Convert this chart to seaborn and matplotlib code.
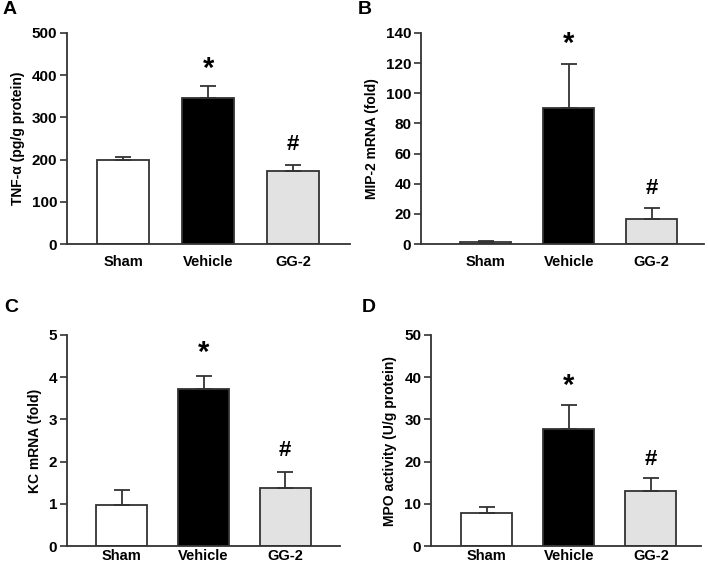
import numpy as np
import matplotlib
matplotlib.use("Agg")
import matplotlib.pyplot as plt
import seaborn as sns

## data
groups = ["Sham", "Vehicle", "GG-2"]
colors = ["#ffffff", "#000000", "#e2e2e2"]

tnf_mean = [198, 345, 173]
tnf_err = [9, 30, 14]
mip2_mean = [1.5, 90, 16.5]
mip2_err = [0.5, 29.5, 7.5]
kc_mean = [0.97, 3.73, 1.37]
kc_err = [0.36, 0.29, 0.38]
mpo_mean = [7.8, 27.7, 13.0]
mpo_err = [1.5, 5.6, 3.0]

sns.set_style("ticks")
plt.rcParams["font.family"] = ["Liberation Sans", "DejaVu Sans"]
plt.rcParams["font.weight"] = "bold"
plt.rcParams["text.color"] = "black"
plt.rcParams["axes.labelcolor"] = "black"
plt.rcParams["xtick.labelcolor"] = "black"
plt.rcParams["ytick.labelcolor"] = "black"

fig = plt.figure(figsize=(7.08, 5.64), dpi=100)

W, H = 708.0, 564.0

def px_axes(left, right, top, bottom):
    return fig.add_axes([left / W, 1 - bottom / H, (right - left) / W, (bottom - top) / H])

panels = [
    # letter, mean, err, ylabel, ymax, step, box, xlim, star_y, hash_y, letter_pos, xpad
    ("A", tnf_mean, tnf_err, "TNF-α (pg/g protein)", 500, 100, (67, 350, 33, 244), (-0.66, 2.67), 415, 235, (3, 10), 8),
    ("B", mip2_mean, mip2_err, "MIP-2 mRNA (fold)", 140, 20, (421, 704, 33, 244), (-0.78, 2.63), 133, 37, (358, 10), 8),
    ("C", kc_mean, kc_err, "KC mRNA (fold)", 5, 1, (67, 340, 335, 546), (-0.67, 2.67), 4.58, 2.27, (4, 307), 2),
    ("D", mpo_mean, mpo_err, "MPO activity (U/g protein)", 50, 10, (431, 701, 335, 546), (-0.68, 2.61), 38.0, 20.6, (362, 307), 2),
]

for letter, mean, err, ylab, ymax, step, box, xlim, star_y, hash_y, lpos, xpad in panels:
    ax = px_axes(*box)
    sns.barplot(x=groups, y=mean, hue=groups, palette=colors, ax=ax, width=0.62,
                edgecolor="#333333", linewidth=1.3, legend=False, errorbar=None)
    ax.errorbar(range(3), mean, yerr=[np.zeros(3), err], fmt="none", ecolor="#333333",
                elinewidth=1.3, capsize=6, capthick=1.3, zorder=1)
    ax.set_ylim(0, ymax)
    ax.set_xlim(*xlim)
    ax.set_yticks(np.arange(0, ymax + step / 2, step))
    ax.set_ylabel(ylab, fontsize=10, fontweight="bold", labelpad=5)
    ax.tick_params(axis="y", length=5, width=1.2, color="#333333", labelsize=11, pad=2)
    ax.tick_params(axis="x", length=0, labelsize=10.5, pad=xpad)
    for lab in ax.get_xticklabels() + ax.get_yticklabels():
        lab.set_fontweight("bold")
    sns.despine(ax=ax)
    for s in ["left", "bottom"]:
        ax.spines[s].set_linewidth(1.3)
        ax.spines[s].set_color("#333333")
    ax.text(1, star_y, "*", ha="center", va="center", fontsize=21, fontweight="bold")
    ax.text(2, hash_y, "#", ha="center", va="center", fontsize=16, fontweight="bold")
    fig.text(lpos[0] / W, 1 - lpos[1] / H, letter, ha="left", va="center", fontsize=14, fontweight="bold")

fig.savefig("out.png", dpi=100)
